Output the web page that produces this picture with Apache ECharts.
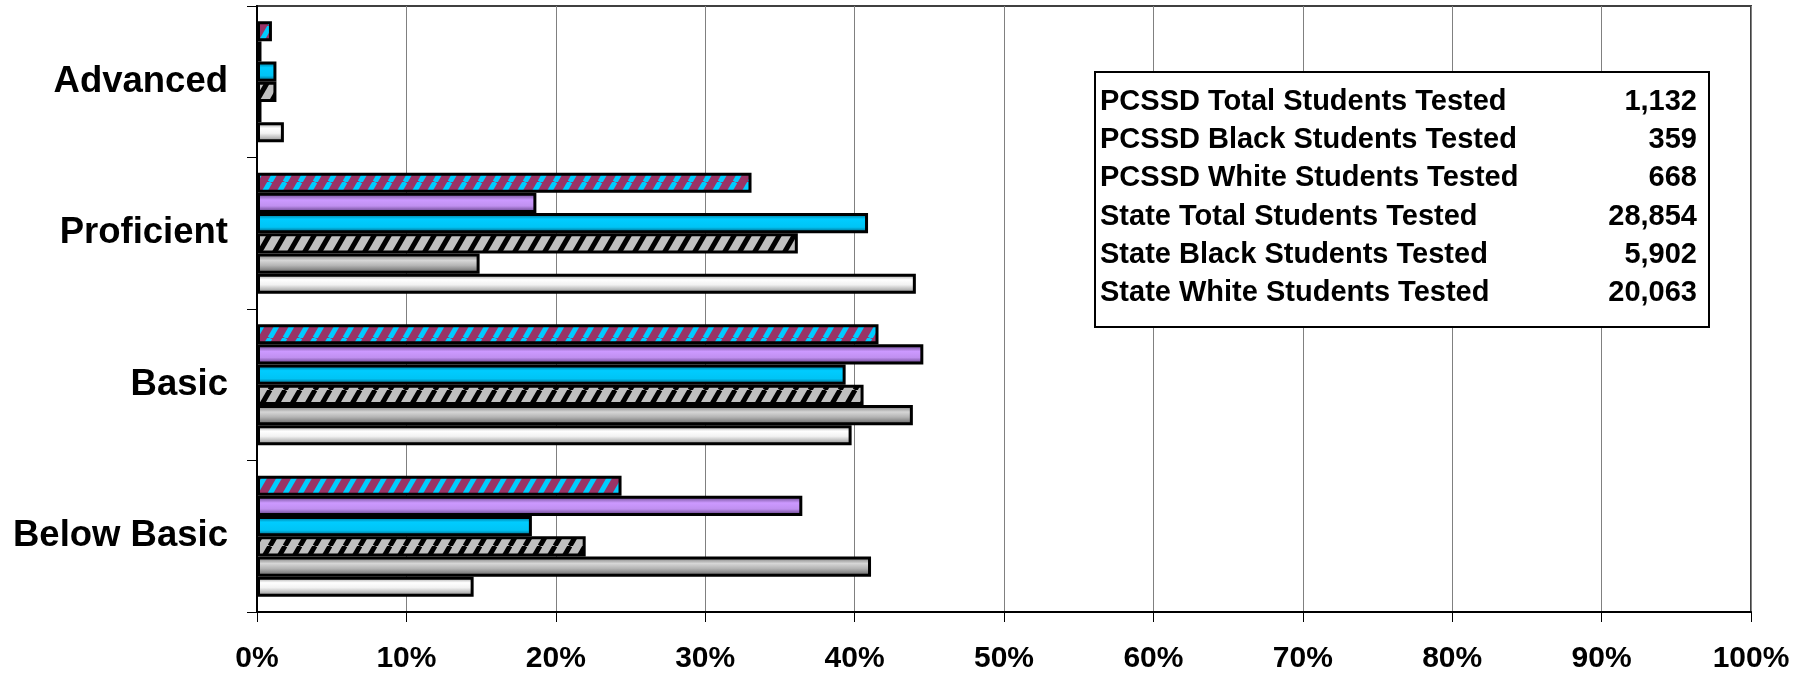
<!DOCTYPE html>
<html><head><meta charset="utf-8">
<script src="https://cdn.jsdelivr.net/npm/echarts@6/dist/echarts.min.js"></script>
<style>html,body{margin:0;padding:0;background:#fff}#c{width:1812px;height:678px}</style>
</head><body><div id="c"></div>
<script>
// ---- data ----
const categories = ['Below Basic', 'Basic', 'Proficient', 'Advanced'];
const seriesNames = ['State Total', 'State Black', 'State White', 'PCSSD Total', 'PCSSD Black', 'PCSSD White'];
const stateTotal = [24.4, 41.6, 33.1, 1.0];
const stateBlack = [36.5, 44.6, 18.7, 0.3];
const stateWhite = [18.4, 39.4, 40.9, 1.3];
const pcssdTotal = [22.0, 40.6, 36.2, 1.3];
const pcssdBlack = [41.1, 43.9, 14.9, 0.3];
const pcssdWhite = [14.5, 39.8, 44.1, 1.8];
const xMin = 0, xMax = 100, xStep = 10;
const boxLabels = ['PCSSD Total Students Tested', 'PCSSD Black Students Tested', 'PCSSD White Students Tested',
  'State Total Students Tested', 'State Black Students Tested', 'State White Students Tested'];
const boxCounts = ['1,132', '359', '668', '28,854', '5,902', '20,063'];

// ---- styles ----
const FONT = 'Liberation Sans, Arial, sans-serif';
function hatch(bg, fg) {
  const w = 15, h = 26;
  const c = document.createElement('canvas'); c.width = w; c.height = h;
  const g = c.getContext('2d');
  g.fillStyle = bg; g.fillRect(0, 0, w, h);
  g.strokeStyle = fg; g.lineWidth = 5;
  for (const x of [-w, 0, w]) { g.beginPath(); g.moveTo(x, h); g.lineTo(x + w, 0); g.stroke(); }
  return { image: c, repeat: 'repeat' };
}
function cyl(stops) {
  return { type: 'linear', x: 0, y: 0, x2: 0, y2: 1, colorStops: stops.map(s => ({ offset: s[0], color: s[1] })) };
}
const fills = [
  hatch('#993366', '#00ccff'),
  cyl([[0, '#5a3a7a'], [0.35, '#cc99ff'], [0.65, '#c090f0'], [1, '#4e2e6e']]),
  cyl([[0, '#005a78'], [0.3, '#00ccff'], [0.7, '#00c4f5'], [1, '#004c66']]),
  hatch('#c0c0c0', '#000000'),
  cyl([[0, '#6a6a6a'], [0.35, '#d6d6d6'], [0.6, '#b4b4b4'], [1, '#5a5a5a']]),
  cyl([[0, '#8a8a8a'], [0.3, '#ffffff'], [0.55, '#f2f2f2'], [0.8, '#b4b4b4'], [1, '#7a7a7a']])
];
const dataSets = [stateTotal, stateBlack, stateWhite, pcssdTotal, pcssdBlack, pcssdWhite];

const series = dataSets.map((d, i) => ({
  name: seriesNames[i], type: 'bar', data: d,
  barGap: '0%', barCategoryGap: '20%',
  itemStyle: { color: fills[i], borderColor: '#000', borderWidth: 3 },
  emphasis: { disabled: true }, animation: false
}));

const graphicEls = [{
  type: 'rect', left: 1094, top: 71, z: 100,
  shape: { width: 614, height: 255 },
  style: { fill: '#fff', stroke: '#000', lineWidth: 2 }
}];
boxLabels.forEach((t, i) => {
  graphicEls.push({ type: 'text', x: 1100, y: 102 + i * 38.2, z: 101,
    style: { text: t, font: 'bold 29px ' + FONT, fill: '#000', textAlign: 'left', textVerticalAlign: 'middle' } });
  graphicEls.push({ type: 'text', x: 1697, y: 102 + i * 38.2, z: 101,
    style: { text: boxCounts[i], font: 'bold 29px ' + FONT, fill: '#000', textAlign: 'right', textVerticalAlign: 'middle' } });
});

const chart = echarts.init(document.getElementById('c'), null, { renderer: 'canvas' });
chart.setOption({
  animation: false,
  backgroundColor: '#fff',
  grid: { left: 257, right: 61, top: 6, bottom: 66, show: true, borderColor: '#404040', borderWidth: 2, containLabel: false, outerBoundsMode: 'none' },
  xAxis: {
    type: 'value', min: xMin, max: xMax, interval: xStep,
    axisLine: { show: true, lineStyle: { color: '#000', width: 2 } },
    axisTick: { show: true, length: 10, lineStyle: { color: '#000', width: 1 } },
    splitLine: { show: true, lineStyle: { color: '#808080', width: 1 } },
    axisLabel: { formatter: '{value}%', fontFamily: FONT, fontWeight: 'bold', fontSize: 30, color: '#000', margin: 32 }
  },
  yAxis: {
    type: 'category', data: categories,
    axisLine: { show: true, lineStyle: { color: '#000', width: 2 } },
    axisTick: { show: true, length: 10, lineStyle: { color: '#000', width: 1 } },
    splitLine: { show: false },
    axisLabel: { fontFamily: FONT, fontWeight: 'bold', fontSize: 36.5, color: '#000', margin: 29 }
  },
  series: series,
  graphic: graphicEls
});
</script>
</body></html>
